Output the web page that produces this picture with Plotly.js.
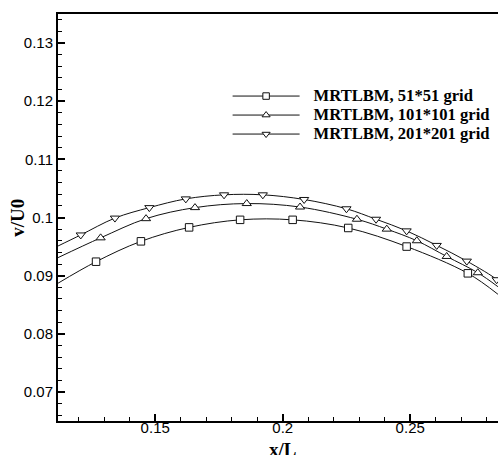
<!DOCTYPE html>
<html>
<head>
<meta charset="utf-8">
<script src="https://cdn.plot.ly/plotly-3.0.1.min.js"></script>
<style>html,body{margin:0;padding:0;overflow:hidden;background:#fff;}#chart{width:520px;height:455px;}</style>
</head>
<body>
<div id="chart"></div>
<script>
// Series names
const seriesNames = ["MRTLBM, 51*51 grid", "MRTLBM, 101*101 grid", "MRTLBM, 201*201 grid"];

// 51*51 grid: curve (ends at plot edges) and symbol positions
const x51 = [0.1119, 0.1268, 0.1444, 0.1633, 0.1833, 0.2039, 0.2257, 0.2486, 0.2726, 0.2844];
const y51 = [0.0887, 0.0924, 0.0959, 0.0983, 0.0996, 0.0996, 0.0982, 0.0950, 0.0904, 0.0868];
const sym51 = [false, true, true, true, true, true, true, true, true, false];

// 101*101 grid
const x101 = [0.1119, 0.1286, 0.1464, 0.1656, 0.1859, 0.2068, 0.2291, 0.2408, 0.2526, 0.2643, 0.2765, 0.2844];
const y101 = [0.0931, 0.0965, 0.0998, 0.1017, 0.1024, 0.1018, 0.0997, 0.0980, 0.0960, 0.0933, 0.0905, 0.0881];
const sym101 = [false, true, true, true, true, true, true, true, true, true, true, false];

// 201*201 grid
const x201 = [0.1119, 0.1208, 0.1342, 0.1477, 0.1620, 0.1770, 0.1922, 0.2084, 0.2250, 0.2366, 0.2486, 0.2604, 0.2722, 0.2839, 0.2844];
const y201 = [0.0951, 0.0970, 0.0999, 0.1017, 0.1032, 0.1039, 0.1039, 0.1031, 0.1015, 0.0997, 0.0977, 0.0952, 0.0925, 0.0893, 0.0889];
const sym201 = [false, true, true, true, true, true, true, true, true, true, true, true, true, true, false];

// Axis ranges and titles
const xRange = [0.11188, 0.29227];
const yRange = [0.065, 0.135];
const xTitle = "x/L";
const yTitle = "v/U0";

function pick(arr, mask) { return arr.filter((v, i) => mask[i]); }

const series = [
  {name: seriesNames[0], x: x51, y: y51, m: sym51, symbol: "square", size: 7.5},
  {name: seriesNames[1], x: x101, y: y101, m: sym101, symbol: "triangle-up", size: 8},
  {name: seriesNames[2], x: x201, y: y201, m: sym201, symbol: "triangle-down", size: 8}
];

const traces = [];
series.forEach(s => {
  traces.push({x: s.x, y: s.y, mode: "lines", line: {color: "#111", width: 1, shape: "spline", smoothing: 1}, showlegend: false, hoverinfo: "skip"});
  traces.push({x: pick(s.x, s.m), y: pick(s.y, s.m), mode: "markers", showlegend: false,
    marker: {symbol: s.symbol, size: s.size, color: "#fff", line: {color: "#111", width: 1}}});
});
series.forEach(s => {
  traces.push({x: [null], y: [null], name: "\u00a0\u00a0\u00a0<span style=\"font-size:16.6px\">" + s.name + "</span>", mode: "lines+markers",
    line: {color: "#111", width: 1},
    marker: {symbol: s.symbol, size: s.size - 1, color: "#fff", line: {color: "#111", width: 1}}});
});

const serif = "Liberation Serif, Times New Roman, serif";
const axisCommon = {
  showgrid: false, zeroline: false, showline: true, linewidth: 2, linecolor: "#000", mirror: true,
  ticks: "inside", ticklen: 7, tickwidth: 2, tickcolor: "#000",
  tickfont: {family: "Liberation Sans, Arial, sans-serif", size: 15, color: "#000"}
};

const layout = {
  width: 520, height: 455,
  margin: {l: 58, r: 2, t: 14, b: 34},
  paper_bgcolor: "#fff", plot_bgcolor: "#fff",
  showlegend: true,
  legend: {x: 0.3687, y: 0.834, xanchor: "left", yanchor: "top", bgcolor: "rgba(0,0,0,0)",
    itemwidth: 67,
    font: {family: serif, size: 12, weight: "bold", color: "#000"}},
  xaxis: Object.assign({}, axisCommon, {
    range: xRange, dtick: 0.05, tick0: 0, ticklabelstandoff: -8,
    minor: {dtick: 0.01, ticks: "inside", ticklen: 4, tickwidth: 1, tickcolor: "#000", showgrid: false}
  }),
  yaxis: Object.assign({}, axisCommon, {
    range: yRange, dtick: 0.01, tick0: 0,
    minor: {dtick: 0.002, ticks: "inside", ticklen: 4, tickwidth: 1, tickcolor: "#000", showgrid: false}
  }),
  annotations: [{
    text: yTitle, xref: "paper", yref: "paper", x: -0.088, y: 0.498, xanchor: "center", yanchor: "middle",
    textangle: -90, showarrow: false, font: {family: serif, size: 19, weight: "bold", color: "#000"}
  }, {
    text: xTitle, xref: "paper", yref: "paper", x: 0.489, y: -0.040, xanchor: "center", yanchor: "top",
    showarrow: false, font: {family: serif, size: 19, weight: "bold", color: "#000"}
  }]
};

Plotly.newPlot("chart", traces, layout, {displayModeBar: false, staticPlot: true});
</script>
</body>
</html>
